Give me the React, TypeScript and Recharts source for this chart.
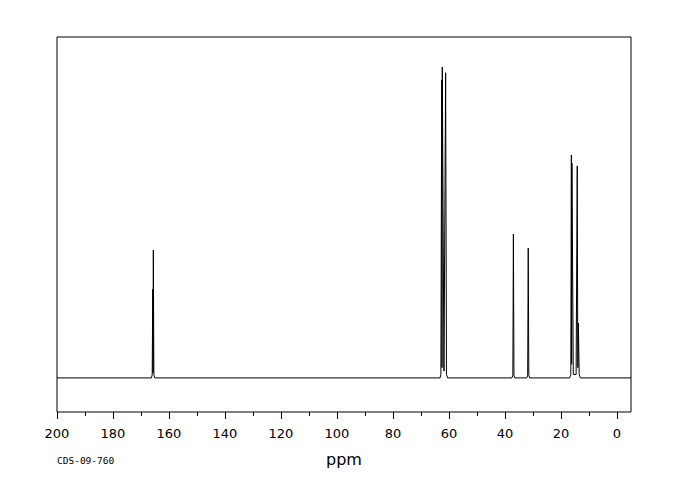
import { Line, LineChart, ReferenceArea, XAxis, YAxis } from "recharts";

// 13C spectrum trace, chemical shift (ppm) with relative intensity
const shiftPpm = [
  200, 166.3, 166.0, 165.8, 165.7, 165.6, 165.4, 165.1,
  63.2, 62.9, 62.6, 62.5, 62.4, 61.8, 61.2, 60.9, 60.5,
  37.5, 37.2, 37.0, 36.8, 36.5,
  32.2, 31.9, 31.7, 31.5, 31.2,
  16.9, 16.5, 16.3, 16.2, 16.1, 15.6, 14.6, 14.2, 14.0, 13.8, 13.5, 13.1,
  -5,
];
const intensity = [
  0, 0, 0.9, 26, 1.5, 37.5, 0.9, 0,
  0, 1, 87.4, 3, 91.2, 2, 89.5, 1, 0,
  0, 0.8, 42.2, 0.8, 0,
  0, 0.8, 38.1, 0.8, 0,
  0, 1, 65.4, 4, 63, 1, 1, 62.2, 3, 16.1, 1, 0,
  0,
];

const axisTicks = [200, 190, 180, 170, 160, 150, 140, 130, 120, 110, 100, 90, 80, 70, 60, 50, 40, 30, 20, 10, 0];
const sampleId = "CDS-09-760";

const data = shiftPpm.map((ppm, i) => ({ ppm, value: intensity[i] }));

function PpmTick({ x, y, payload }: any) {
  const major = payload.value % 20 === 0;
  return (
    <g>
      <line
        x1={x}
        x2={x}
        y1={y}
        y2={y + (major ? 6.5 : 4)}
        stroke="#000"
        shapeRendering="crispEdges"
      />
      {major && (
        <text
          x={x}
          y={y + 26}
          textAnchor="middle"
          fontFamily="DejaVu Sans"
          fontSize={13}
          fill="#000"
        >
          {payload.value}
        </text>
      )}
    </g>
  );
}

export default function App() {
  return (
    <div style={{ position: "relative", width: 672, height: 492 }}>
      <LineChart
        width={672}
        height={492}
        data={data}
        margin={{ top: 29, right: 49, left: 49, bottom: 28 }}
      >
        <XAxis
          dataKey="ppm"
          type="number"
          domain={[-5, 200]}
          reversed
          allowDataOverflow
          ticks={axisTicks}
          interval={0}
          axisLine={false}
          tickLine={false}
          tickSize={0}
          tickMargin={0}
          tick={<PpmTick />}
          height={60}
        />
        <YAxis hide domain={[-10, 100]} allowDataOverflow />
        <ReferenceArea
          x1={200}
          x2={-5}
          y1={-10}
          y2={100}
          fill="none"
          stroke="#000"
          strokeWidth={1}
          ifOverflow="visible"
        />
        <Line
          type="linear"
          dataKey="value"
          stroke="#000"
          strokeWidth={1}
          dot={false}
          isAnimationActive={false}
        />
      </LineChart>
      <div
        style={{
          position: "absolute",
          left: 0,
          width: 672,
          top: 443,
          textAlign: "center",
          fontFamily: "DejaVu Sans",
          fontSize: 16,
          lineHeight: "18px",
          color: "#000",
        }}
      >
        ppm
      </div>
      <div
        style={{
          position: "absolute",
          left: 49,
          top: 447,
          fontFamily: "DejaVu Sans Mono",
          fontSize: 9.5,
          lineHeight: "12px",
          color: "#000",
        }}
      >
        {sampleId}
      </div>
    </div>
  );
}
